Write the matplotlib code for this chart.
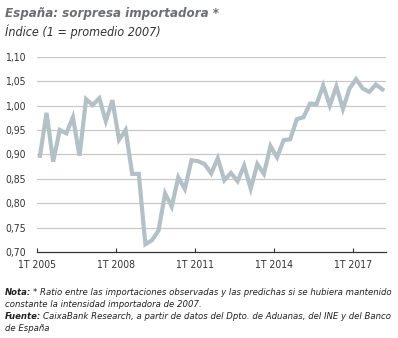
import matplotlib
matplotlib.use("Agg")
import matplotlib.pyplot as plt
import numpy as np

# Quarterly values, 1T 2005 .. 1T 2018
quarters = np.arange(53)
values = [0.897, 0.985, 0.885, 0.950, 0.943, 0.976, 0.897, 1.013, 1.001, 1.015,
          0.968, 1.011, 0.930, 0.950, 0.860, 0.860, 0.716, 0.724, 0.744, 0.820,
          0.793, 0.853, 0.829, 0.888, 0.886, 0.880, 0.861, 0.892, 0.847, 0.862,
          0.845, 0.877, 0.830, 0.880, 0.860, 0.917, 0.894, 0.929, 0.931, 0.972,
          0.976, 1.004, 1.003, 1.041, 1.000, 1.039, 0.993, 1.035, 1.054, 1.035,
          1.028, 1.043, 1.033]
tick_pos = [0, 12, 24, 36, 48]
tick_labels = ["1T 2005", "1T 2008", "1T 2011", "1T 2014", "1T 2017"]
yticks = [0.70, 0.75, 0.80, 0.85, 0.90, 0.95, 1.00, 1.05, 1.10]

plt.rcParams['font.family'] = ['DejaVu Sans']
plt.rcParams['font.stretch'] = 'condensed'

fig = plt.figure(figsize=(3.98, 3.38), dpi=100)
ax = fig.add_axes([0.093, 0.2544, 0.877, 0.5778])

ax.plot(quarters + 0.45, values, color='#b3c1c7', lw=3.0, solid_joinstyle='miter', zorder=3)

ax.set_xlim(0, 53)
ax.set_ylim(0.70, 1.10)
ax.set_yticks(yticks)
ax.set_yticklabels([f"{v:.2f}".replace('.', ',') for v in yticks])
ax.set_xticks(tick_pos)
ax.set_xticklabels(tick_labels)
for y in yticks[1:]:
    ax.axhline(y, color='#c8c8c8', lw=0.9, zorder=1)

for s in ['top', 'right', 'left']:
    ax.spines[s].set_visible(False)
ax.spines['bottom'].set_color('#333333')
ax.spines['bottom'].set_linewidth(0.9)
ax.tick_params(axis='y', length=0, pad=8, labelsize=7.5, labelcolor='#333333')
ax.tick_params(axis='x', direction='in', length=3, width=0.8, color='#333333',
               pad=6, labelsize=7.5, labelcolor='#333333')

fig.text(0.013, 0.950, "España: sorpresa importadora *", fontsize=9.5, fontweight='bold',
         fontstyle='italic', color='#6d6e71', va='baseline')
fig.text(0.013, 0.893, "Índice (1 = promedio 2007)", fontsize=9, fontstyle='italic',
         color='#333333', va='baseline')

renderer = fig.canvas.get_renderer()

def mixed(y, bold, rest):
    x = 0.013
    if bold:
        t = fig.text(x, y, bold, fontsize=6.8, fontweight='bold', fontstyle='italic',
                     color='#222222', va='baseline')
        bb = t.get_window_extent(renderer)
        x = bb.x1 / fig.bbox.width + 0.004
    fig.text(x, y, rest, fontsize=6.8, fontstyle='italic', color='#222222', va='baseline')

mixed(0.128, "Nota:", "* Ratio entre las importaciones observadas y las predichas si se hubiera mantenido")
mixed(0.092, "", "constante la intensidad importadora de 2007.")
mixed(0.057, "Fuente:", "CaixaBank Research, a partir de datos del Dpto. de Aduanas, del INE y del Banco")
mixed(0.021, "", "de España")

fig.savefig("out.png", dpi=100)
